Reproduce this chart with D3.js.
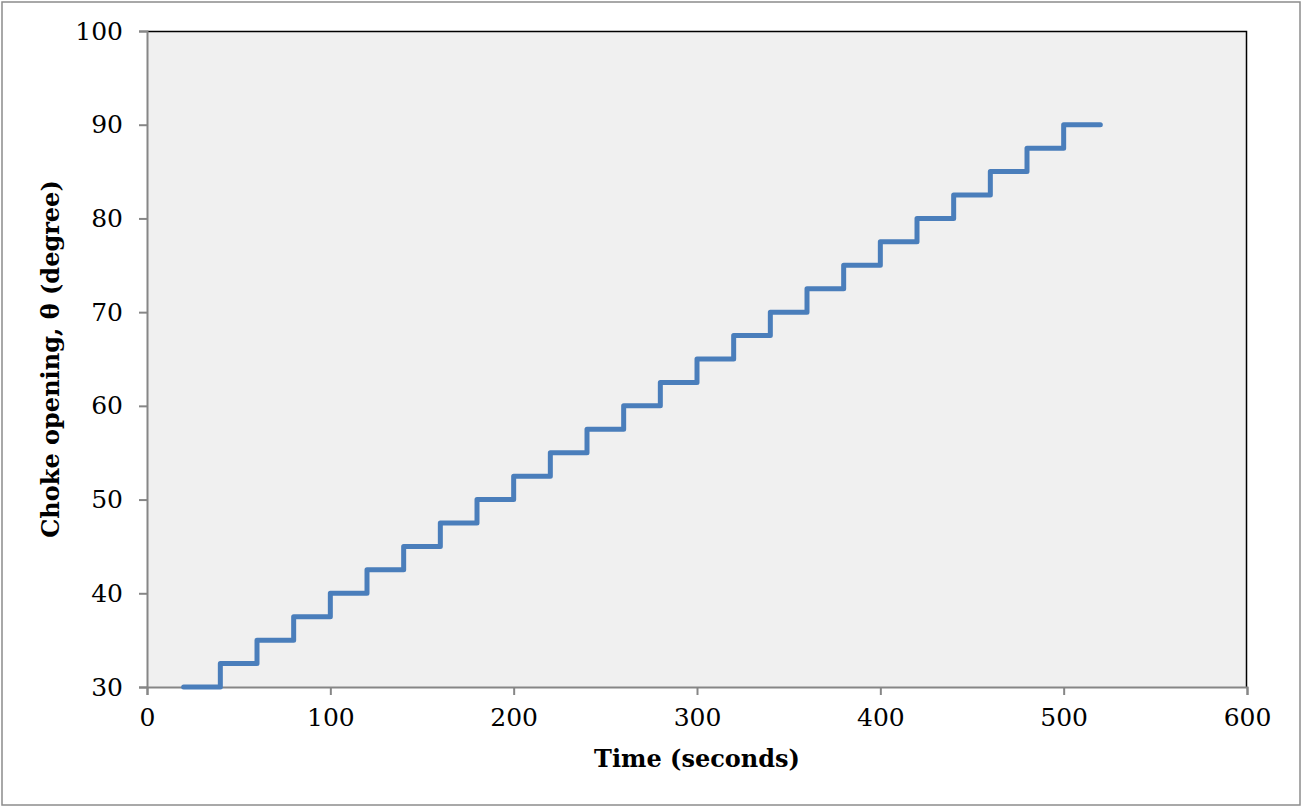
<!DOCTYPE html>
<html>
<head>
<meta charset="utf-8">
<script src="https://cdn.jsdelivr.net/npm/d3@7"></script>
<style>
  html, body { margin: 0; padding: 0; background: #fff; }
  svg { display: block; }
  .tick text { font-family: "DejaVu Serif", serif; font-size: 25px; fill: #000; }
  .axis-title { font-family: "DejaVu Serif", serif; font-size: 24px; font-weight: bold; fill: #000; }
</style>
</head>
<body>
<div id="chart"></div>
<script>
// Step choke opening over time
const times = [20, 40, 60, 80, 100, 120, 140, 160, 180, 200, 220, 240, 260,
  280, 300, 320, 340, 360, 380, 400, 420, 440, 460, 480, 500, 520];
const openings = [30, 32.5, 35, 37.5, 40, 42.5, 45, 47.5, 50, 52.5, 55, 57.5, 60,
  62.5, 65, 67.5, 70, 72.5, 75, 77.5, 80, 82.5, 85, 87.5, 90, 90];
const xTicks = [0, 100, 200, 300, 400, 500, 600];
const yTicks = [30, 40, 50, 60, 70, 80, 90, 100];

const width = 1302, height = 808;
const margin = { left: 147, right: 55, top: 31, bottom: 121 };
const plotW = width - margin.left - margin.right;
const plotH = height - margin.top - margin.bottom;

const svg = d3.select('#chart').append('svg')
  .attr('width', width)
  .attr('height', height);

// outer frame
svg.append('rect')
  .attr('x', 2).attr('y', 2)
  .attr('width', width - 4).attr('height', height - 5)
  .attr('fill', '#fff')
  .attr('stroke', '#8c8c8c')
  .attr('stroke-width', 1.5);

const g = svg.append('g').attr('transform', `translate(${margin.left},${margin.top})`);

const x = d3.scaleLinear().domain([0, 600]).range([0, plotW]);
const y = d3.scaleLinear().domain([30, 100]).range([plotH, 0]);

g.append('rect')
  .attr('width', plotW).attr('height', plotH)
  .attr('fill', '#f0f0f0');

// top and right frame of plot area
g.append('path')
  .attr('d', `M0,0.5H${plotW - 0.5}V${plotH}`)
  .attr('fill', 'none')
  .attr('stroke', '#000')
  .attr('stroke-width', 1.5);

const xAxis = g.append('g')
  .attr('transform', `translate(0,${plotH})`)
  .call(d3.axisBottom(x).tickValues(xTicks).tickSize(8).tickPadding(8));

const yAxis = g.append('g')
  .call(d3.axisLeft(y).tickValues(yTicks).tickSize(8).tickPadding(16));

[xAxis, yAxis].forEach(a => {
  a.select('.domain').attr('stroke', '#868686').attr('stroke-width', 2);
  a.selectAll('.tick line').attr('stroke', '#868686').attr('stroke-width', 2);
});
xAxis.selectAll('.tick text').attr('dy', '0.9em');

const line = d3.line()
  .x((d, i) => x(times[i]))
  .y(d => y(d))
  .curve(d3.curveStepAfter);

g.append('path')
  .datum(openings)
  .attr('d', line)
  .attr('fill', 'none')
  .attr('stroke', '#4a7ebb')
  .attr('stroke-width', 5)
  .attr('stroke-linejoin', 'round')
  .attr('stroke-linecap', 'round');

svg.append('text')
  .attr('class', 'axis-title')
  .attr('x', margin.left + plotW / 2)
  .attr('y', 767)
  .attr('text-anchor', 'middle')
  .text('Time (seconds)');

svg.append('text')
  .attr('class', 'axis-title')
  .attr('transform', `translate(59,${margin.top + plotH / 2}) rotate(-90)`)
  .attr('text-anchor', 'middle')
  .text('Choke opening, θ (degree)');
</script>
</body>
</html>
